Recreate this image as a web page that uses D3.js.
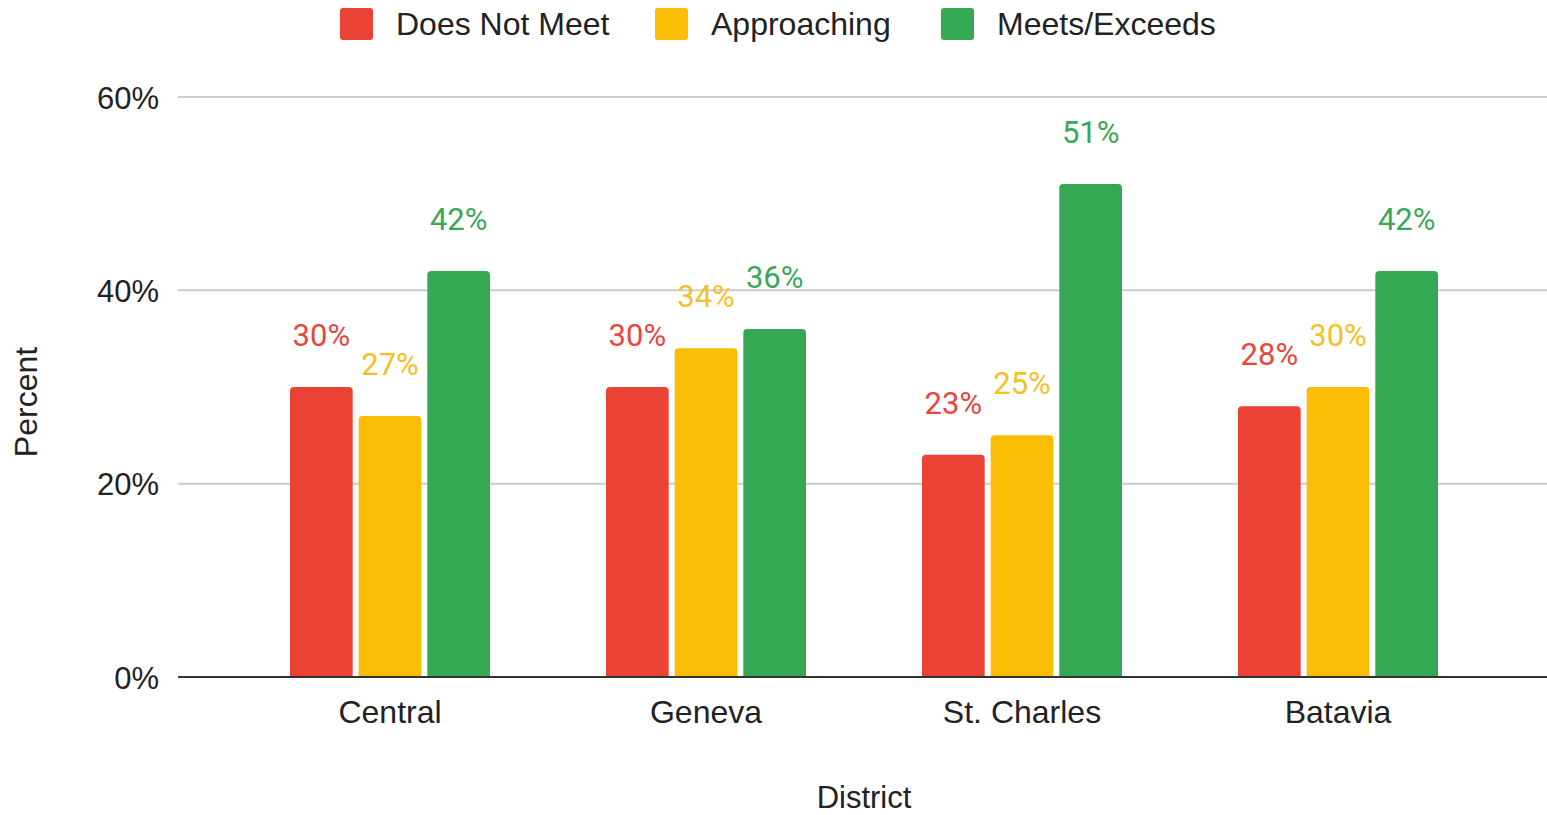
<!DOCTYPE html>
<html><head><meta charset="utf-8">
<script src="https://cdn.jsdelivr.net/npm/d3@7"></script>
<style>body{margin:0;background:#fff}svg{display:block}</style>
</head><body><svg id="c" width="1547" height="815"></svg>
<script>
const categories = ["Central", "Geneva", "St. Charles", "Batavia"];
const seriesNames = ["Does Not Meet", "Approaching", "Meets/Exceeds"];
const doesNotMeet = [30, 30, 23, 28];
const approaching = [27, 34, 25, 30];
const meetsExceeds = [42, 36, 51, 42];
const yTicks = [0, 20, 40, 60];
const colors = ["#EA4335", "#FBBC04", "#34A853"];
const labelColors = ["#E8453C", "#F6BF26", "#3AA757"];

const series = [doesNotMeet, approaching, meetsExceeds];
const svg = d3.select("#c");
const axisFont = "'Liberation Sans', Arial, sans-serif";
const labelFont = "Roboto, sans-serif";

const y = d3.scaleLinear().domain([0, 60]).range([677, 97]);
const x0 = d3.scaleBand().domain(categories).range([232, 1496]).paddingInner(0).paddingOuter(0);
const x1 = d3.scaleBand().domain(d3.range(3)).range([58, 258]).paddingInner(0.087).paddingOuter(0);

// gridlines
svg.append("g").selectAll("line").data(yTicks.filter(t => t > 0)).join("line")
  .attr("x1", 178).attr("x2", 1547)
  .attr("y1", d => y(d)).attr("y2", d => y(d))
  .attr("stroke", "#cccccc").attr("stroke-width", 2);

// tick labels
svg.append("g").selectAll("text").data(yTicks).join("text")
  .attr("x", 159).attr("y", d => y(d) + 11.5)
  .attr("text-anchor", "end")
  .attr("font-family", axisFont).attr("font-size", 31).attr("fill", "#222")
  .text(d => d + "%");

// bars
function topRounded(x, yTop, w, h, r) {
  r = Math.min(r, h, w / 2);
  return `M${x},${yTop + h}V${yTop + r}Q${x},${yTop} ${x + r},${yTop}H${x + w - r}Q${x + w},${yTop} ${x + w},${yTop + r}V${yTop + h}Z`;
}
const groups = svg.append("g").selectAll("g").data(categories).join("g")
  .attr("transform", d => `translate(${x0(d)},0)`);
groups.each(function(cat, ci) {
  const g = d3.select(this);
  series.forEach((s, si) => {
    const v = s[ci];
    const bx = x1(si), bw = x1.bandwidth();
    g.append("path")
      .attr("d", topRounded(bx, y(v), bw, y(0) - y(v), 4))
      .attr("fill", colors[si]);
    g.append("text")
      .attr("x", bx + bw / 2).attr("y", y(v) - 41)
      .attr("text-anchor", "middle")
      .attr("font-family", labelFont).attr("font-size", 31)
      .attr("fill", labelColors[si])
      .text(v + "%");
  });
});

// baseline
svg.append("line").attr("x1", 178).attr("x2", 1547)
  .attr("y1", y(0)).attr("y2", y(0))
  .attr("stroke", "#333").attr("stroke-width", 2);

// category labels
svg.append("g").selectAll("text").data(categories).join("text")
  .attr("x", d => x0(d) + x0.bandwidth() / 2).attr("y", 723)
  .attr("text-anchor", "middle")
  .attr("font-family", axisFont).attr("font-size", 32).attr("fill", "#222")
  .text(d => d);

// axis titles
svg.append("text").attr("x", 864).attr("y", 808).attr("text-anchor", "middle")
  .attr("font-family", axisFont).attr("font-size", 31).attr("fill", "#222").text("District");
svg.append("text").attr("transform", "translate(37,402) rotate(-90)").attr("text-anchor", "middle")
  .attr("font-family", axisFont).attr("font-size", 32).attr("fill", "#222").text("Percent");

// legend
const legendX = [340, 655, 941];
const leg = svg.append("g").selectAll("g").data(seriesNames).join("g")
  .attr("transform", (d, i) => `translate(${legendX[i]},0)`);
leg.append("rect").attr("x", 0).attr("y", 8).attr("width", 33).attr("height", 32).attr("rx", 3)
  .attr("fill", (d, i) => colors[i]);
leg.append("text").attr("x", 56).attr("y", 35)
  .attr("font-family", axisFont).attr("font-size", 32).attr("fill", "#222")
  .text(d => d);
</script></body></html>
